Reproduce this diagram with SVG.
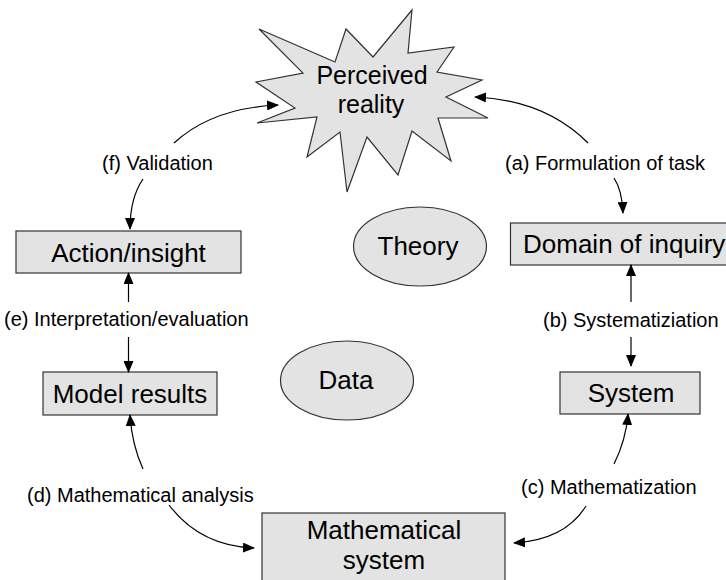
<svg xmlns="http://www.w3.org/2000/svg" width="726" height="580" viewBox="0 0 726 580">
<defs>
<marker id="ah" markerWidth="12" markerHeight="10" refX="11" refY="5" orient="auto" markerUnits="userSpaceOnUse">
<path d="M0,0 L12,5 L0,10 z" fill="#000"/>
</marker>
<style>
.shape{fill:#e3e3e3;stroke:#333;stroke-width:1.2}
.main{font-family:"Liberation Sans",Arial,sans-serif;font-size:26px;fill:#000;text-anchor:middle}
.lbl{font-family:"Liberation Sans",Arial,sans-serif;font-size:20px;fill:#000}
.conn{fill:none;stroke:#000;stroke-width:1.2;marker-end:url(#ah)}
</style>
</defs>
<rect width="726" height="580" fill="#fff"/>
<g id="perceived-reality">
<polygon class="shape" points="259,29 335,62 346,29 373,57 412,10 408,53 454,47 437,72 482,80 446,97 488,118 438,118 451,161 412,131 398,175 367,137 347,192 340,132 307,157 317,117 257,123 295,108 256,82 303,73"/>
<text class="main" x="372" y="84" style="font-size:25px">Perceived</text>
<text class="main" x="371" y="113" style="font-size:25px">reality</text>
</g>
<g id="action-insight">
<rect class="shape" x="16" y="231" width="225" height="42"/>
<text class="main" x="128.5" y="262">Action/insight</text>
</g>
<g id="domain-of-inquiry">
<rect class="shape" x="510.5" y="223" width="240" height="42"/>
<text class="main" x="523" y="253" style="text-anchor:start">Domain of inquiry</text>
</g>
<g id="model-results">
<rect class="shape" x="43" y="372" width="174" height="43"/>
<text class="main" x="130" y="403">Model results</text>
</g>
<g id="system">
<rect class="shape" x="560" y="372" width="140" height="42"/>
<text class="main" x="631" y="402">System</text>
</g>
<g id="mathematical-system">
<rect class="shape" x="262" y="513" width="243" height="80"/>
<text class="main" x="384" y="539">Mathematical</text>
<text class="main" x="384" y="569">system</text>
</g>
<g id="theory">
<ellipse class="shape" cx="420" cy="246.5" rx="66.5" ry="39.5"/>
<text class="main" x="418" y="255">Theory</text>
</g>
<g id="data">
<ellipse class="shape" cx="347" cy="380.5" rx="66.5" ry="39.5"/>
<text class="main" x="346" y="389">Data</text>
</g>
<g id="labels">
<text class="lbl" x="102" y="170">(f) Validation</text>
<text class="lbl" x="505" y="170">(a) Formulation of task</text>
<text class="lbl" x="4" y="326">(e) Interpretation/evaluation</text>
<text class="lbl" x="543" y="327">(b) Systematiziation</text>
<text class="lbl" x="27" y="502">(d) Mathematical analysis</text>
<text class="lbl" x="521" y="494">(c) Mathematization</text>
</g>
<g id="connectors">
<path class="conn" d="M174,143 Q212,108 278,105"/>
<path class="conn" d="M143,179 Q130,198 130,229"/>
<path class="conn" d="M588,143 Q545,100 475,97"/>
<path class="conn" d="M614,178 Q622,190 623,213"/>
<path class="conn" d="M631,302 L631,265"/>
<path class="conn" d="M631,337 L631,366"/>
<path class="conn" d="M128.5,302 L128.5,273"/>
<path class="conn" d="M128.5,337 L128.5,372"/>
<path class="conn" d="M143,469 Q132,445 130,415"/>
<path class="conn" d="M169,505 Q200,546 254,548"/>
<path class="conn" d="M614,464 Q626,440 628,414"/>
<path class="conn" d="M586,506 Q565,540 514,543"/>
</g>
</svg>
